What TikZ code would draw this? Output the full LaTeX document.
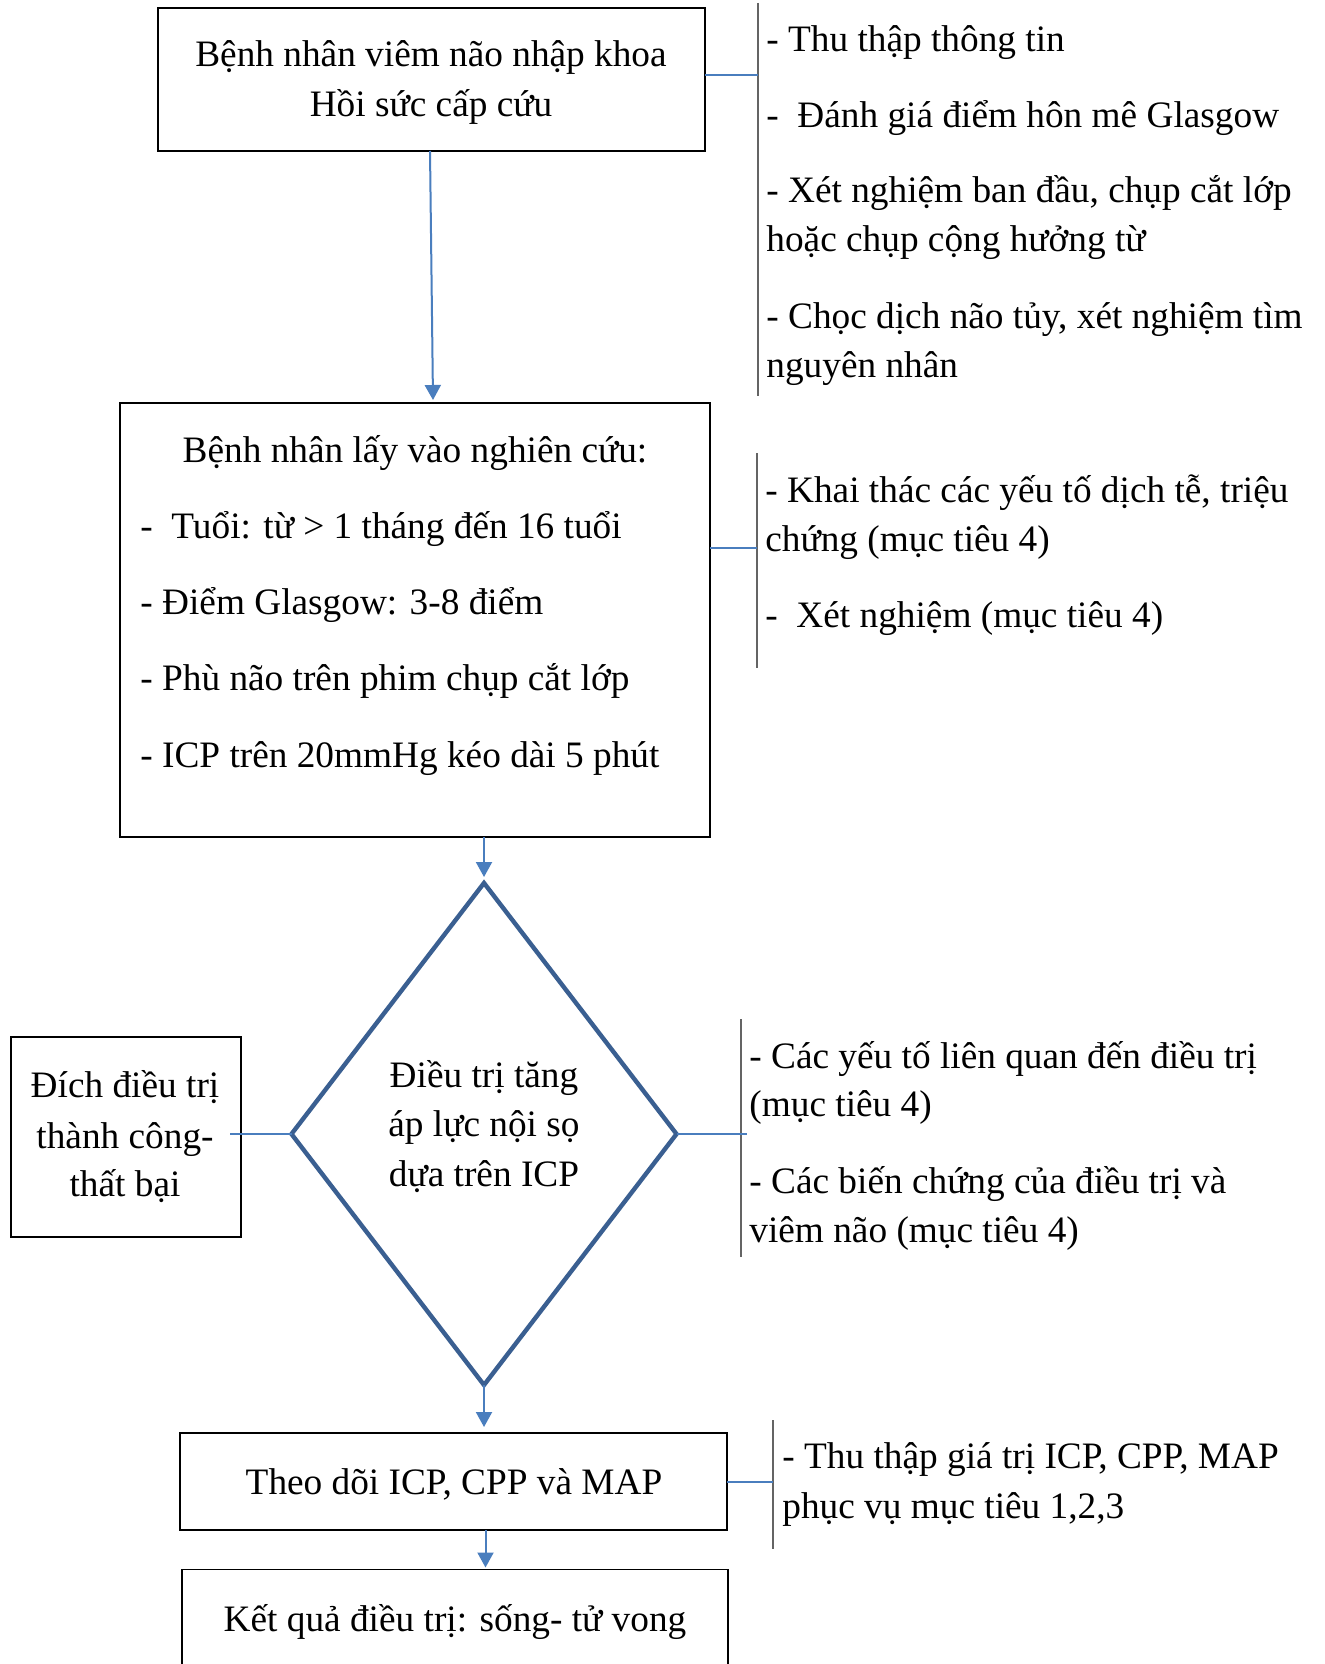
\documentclass[tikz,border=0pt]{standalone}
\usepackage{fontspec}
\setmainfont{Liberation Serif}
\usetikzlibrary{shapes.geometric,arrows.meta}
\definecolor{conn}{RGB}{74,126,190}
\definecolor{diac}{RGB}{58,95,145}
\definecolor{brk}{RGB}{100,100,100}
\begin{document}
\begin{tikzpicture}[x=0.5pt,y=-0.5pt,
  box/.style={draw=black,line width=0.65pt,inner sep=0,outer sep=0},
  link/.style={draw=conn,line width=1pt},
  arr/.style={link,-{Triangle[length=7.5pt,width=8pt]}},
  brkline/.style={draw=brk,line width=0.8pt},
  lbl/.style={font=\fontsize{18.65pt}{24pt}\selectfont,inner sep=0,anchor=base west},
  clbl/.style={lbl,anchor=base}]
\useasboundingbox (0,0) rectangle (1324,1664);
\fill[white] (0,0) rectangle (1324,1664);

% boxes
\node[box,minimum width=273.5pt,minimum height=71.5pt] (box1) at (431.5,79.5) {};
\node[box,minimum width=295pt,minimum height=217pt] (box2) at (415,620) {};
\node[box,minimum width=115pt,minimum height=100pt] (lbox) at (126,1137) {};
\node[draw=diac,line width=2.2pt,shape=diamond,inner sep=0,outer sep=0,
      minimum width=192.5pt,minimum height=251pt] (dia) at (484,1134) {};
\node[box,minimum width=273.5pt,minimum height=48.5pt] (box4) at (453.5,1481.5) {};
\node[box,minimum width=273pt,minimum height=71pt] (box5) at (455,1640.5) {};

% bracket coordinates
\coordinate (b1t) at (758,3);   \coordinate (b1b) at (758,396);
\coordinate (b2t) at (757,453); \coordinate (b2b) at (757,668);
\coordinate (b3t) at (741,1019);\coordinate (b3b) at (741,1257);
\coordinate (b4t) at (773,1420);\coordinate (b4b) at (773,1549);
\coordinate (c1) at (758,75);
\coordinate (c2) at (757,548);
\coordinate (c3) at (747,1134);
\coordinate (c4) at (773,1482);
\coordinate (cl) at (230,1134);

\draw[brkline] (b1t) -- (b1b);
\draw[brkline] (b2t) -- (b2b);
\draw[brkline] (b3t) -- (b3b);
\draw[brkline] (b4t) -- (b4b);

% connectors
\draw[link] (box1.east |- c1) -- (c1);
\draw[link] (box2.east |- c2) -- (c2);
\draw[link] (dia.east) -- (c3);
\draw[link] (box4.east |- c4) -- (c4);
\draw[link] (cl) -- (dia.west);

\draw[arr] ([xshift=-0.75pt]box1.south) -- ([xshift=9pt,yshift=1.5pt]box2.north);
\draw[arr,shorten >=3pt] (box2.south -| dia.north) -- (dia.north);
\draw[arr,shorten >=3pt] (dia.south) -- (dia.south |- box4.north);
\draw[arr,shorten >=1pt] ([xshift=16pt]box4.south) -- ([xshift=16pt]box4.south |- box5.north);

% texts box1
\node[clbl] (t11) at (431,67) {Bệnh nhân viêm não nhập khoa};
\node[clbl] (t12) at (431,117) {Hồi sức cấp cứu};
% right 1
\node[lbl] (r11) at (766,52) {- Thu thập thông tin};
\node[lbl] (r12) at (766,128) {-\ \ Đánh giá điểm hôn mê Glasgow};
\node[lbl] (r13) at (766,203) {- Xét nghiệm ban đầu, chụp cắt lớp};
\node[lbl] (r14) at (766,252) {hoặc chụp cộng hưởng từ};
\node[lbl] (r15) at (766,328) {- Chọc dịch não tủy, xét nghiệm tìm};
\node[lbl] (r16) at (766,377) {nguyên nhân};
% box2
\node[clbl] (t21) at (415,462) {Bệnh nhân lấy vào nghiên cứu:};
\node[lbl] (t22) at (140,538) {-\ \ Tuổi: từ > 1 tháng đến 16 tuổi};
\node[lbl] (t23) at (140,614) {- Điểm Glasgow: 3-8 điểm};
\node[lbl] (t24) at (140,690) {- Phù não trên phim chụp cắt lớp};
\node[lbl] (t25) at (140,767) {- ICP trên 20mmHg kéo dài 5 phút};
% right 2
\node[lbl] (r21) at (765,502) {- Khai thác các yếu tố dịch tễ, triệu};
\node[lbl] (r22) at (765,551) {chứng (mục tiêu 4)};
\node[lbl] (r23) at (765,627) {-\ \ Xét nghiệm (mục tiêu 4)};
% left box
\node[clbl] (l1) at (125,1097) {Đích điều trị};
\node[clbl] (l2) at (125,1148) {thành công-};
\node[clbl] (l3) at (125,1196) {thất bại};
% diamond
\node[clbl] (d1) at (484,1087) {Điều trị tăng};
\node[clbl] (d2) at (484,1136) {áp lực nội sọ};
\node[clbl] (d3) at (484,1186) {dựa trên ICP};
% right 3
\node[lbl] (r31) at (749,1068) {- Các yếu tố liên quan đến điều trị};
\node[lbl] (r32) at (749,1116) {(mục tiêu 4)};
\node[lbl] (r33) at (749,1193) {- Các biến chứng của điều trị và};
\node[lbl] (r34) at (749,1242) {viêm não (mục tiêu 4)};
% box4 and box5
\node[clbl] (t4) at (454,1494) {Theo dõi ICP, CPP và MAP};
\node[lbl] (r41) at (782,1468) {- Thu thập giá trị ICP, CPP, MAP};
\node[lbl] (r42) at (782,1518) {phục vụ mục tiêu 1,2,3};
\node[clbl] (t5) at (455,1631) {Kết quả điều trị: sống- tử vong};
\end{tikzpicture}
\end{document}
